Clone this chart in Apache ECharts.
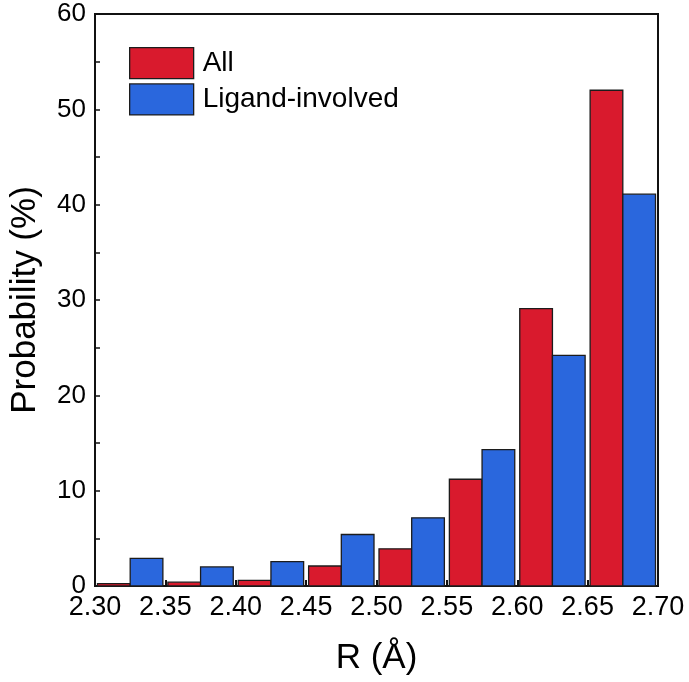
<!DOCTYPE html>
<html>
<head>
<meta charset="utf-8">
<script src="https://cdn.jsdelivr.net/npm/echarts@6/dist/echarts.min.js"></script>
<style>html,body{margin:0;padding:0;background:#fff}#c{width:689px;height:682px}</style>
</head>
<body>
<div id="c"></div>
<script>
const binStart = [2.30, 2.35, 2.40, 2.45, 2.50, 2.55, 2.60, 2.65];
const binWidth = 0.05;
const allValues = [0.25, 0.4, 0.6, 2.1, 3.9, 11.2, 29.1, 52.0];
const ligandValues = [2.9, 2.0, 2.55, 5.4, 7.15, 14.3, 24.2, 41.1];
const seriesNames = ['All', 'Ligand-involved'];
const xTickLabels = ['2.30','2.35','2.40','2.45','2.50','2.55','2.60','2.65','2.70'];
const yTickLabels = ['0','10','20','30','40','50','60'];

const RED = '#D91A2D', BLUE = '#2A67DD', EDGE = '#1c1c1c';
const FONT = 'Liberation Sans, Arial, sans-serif';

function makeRender(side) {
  return function (params, api) {
    const x0 = api.value(0), x1 = api.value(1), y = api.value(2);
    const pTop = api.coord([x0, y]);
    const pBot = api.coord([x1, 0]);
    let left = pTop[0], right = pBot[0];
    if (side === 0) left += 2.5; else right -= 2.5;
    return {
      type: 'rect',
      shape: { x: left, y: pTop[1], width: right - left, height: pBot[1] - pTop[1] },
      style: { fill: api.visual('color'), stroke: EDGE, lineWidth: 1.3 }
    };
  };
}

const allData = allValues.map((v, i) => [binStart[i], binStart[i] + binWidth / 2, v]);
const ligData = ligandValues.map((v, i) => [binStart[i] + binWidth / 2, binStart[i] + binWidth, v]);

const chart = echarts.init(document.getElementById('c'), null, { renderer: 'canvas' });
chart.setOption({
  animation: false,
  backgroundColor: '#fff',
  grid: { left: 86, right: 31, top: 14, bottom: 96, show: true, borderColor: '#111', borderWidth: 2, backgroundColor: 'transparent' },
  legend: {
    orient: 'vertical', left: 124, top: 42, itemWidth: 64, itemHeight: 31, itemGap: 4,
    icon: 'rect', selectedMode: false,
    textStyle: { fontFamily: FONT, fontSize: 28, color: '#000', padding: [0, 0, 0, 4] },
    itemStyle: { borderColor: EDGE, borderWidth: 1.3 },
    data: seriesNames
  },
  xAxis: {
    type: 'value', min: 2.30, max: 2.70, interval: 0.05,
    name: 'R (Å)', nameLocation: 'middle', nameGap: 55,
    nameTextStyle: { fontFamily: FONT, fontSize: 35, color: '#000' },
    axisLine: { show: true, lineStyle: { color: '#111', width: 2 } },
    axisTick: { show: true, inside: true, length: 6, lineStyle: { color: '#111', width: 2 } },
    axisLabel: { fontFamily: FONT, fontSize: 27, color: '#000', margin: 8,
      formatter: (v) => xTickLabels[Math.round((v - 2.30) / 0.05)] },
    splitLine: { show: false }
  },
  yAxis: {
    type: 'value', min: 0, max: 60, interval: 10,
    name: 'Probability (%)', nameLocation: 'middle', nameGap: 52,
    nameTextStyle: { fontFamily: FONT, fontSize: 35, color: '#000' },
    axisLine: { show: true, lineStyle: { color: '#111', width: 2 } },
    axisTick: { show: true, inside: true, length: 5, lineStyle: { color: '#111', width: 1.5 } },
    minorTick: { show: true, splitNumber: 2, length: 5, lineStyle: { color: '#111', width: 1.5 } },
    axisLabel: { fontFamily: FONT, fontSize: 26, color: '#000', margin: 9,
      formatter: (v) => yTickLabels[Math.round(v / 10)] },
    splitLine: { show: false }
  },
  series: [
    { name: seriesNames[0], type: 'custom', renderItem: makeRender(0), itemStyle: { color: RED },
      encode: { x: [0, 1], y: 2 }, data: allData, z: 1 },
    { name: seriesNames[1], type: 'custom', renderItem: makeRender(1), itemStyle: { color: BLUE },
      encode: { x: [0, 1], y: 2 }, data: ligData, z: 1 }
  ]
});
</script>
</body>
</html>
